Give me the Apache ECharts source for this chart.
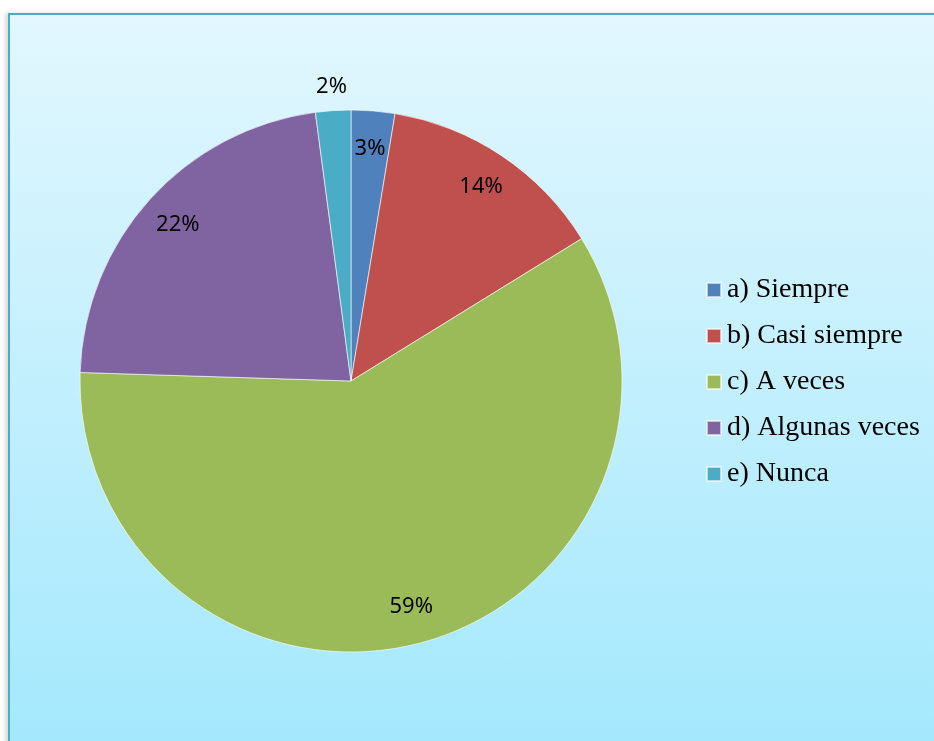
<!DOCTYPE html>
<html>
<head>
<meta charset="utf-8">
<script src="https://cdn.jsdelivr.net/npm/echarts@6/dist/echarts.min.js"></script>
<style>
  body { margin: 0; background: #ffffff; }
  #box {
    position: absolute; left: 8px; top: 13px; width: 940px; height: 740px;
    border-top: 2px solid #4bacc6; border-left: 2px solid #4bacc6;
    background: linear-gradient(to bottom, #e2f7fe 0%, #a3e8fd 100%);
    box-shadow: -3px 0 4px rgba(0,0,0,0.15);
  }
  #chart { position: absolute; left: 0; top: 0; width: 934px; height: 741px; }
</style>
</head>
<body>
<div id="box"></div>
<div id="chart"></div>
<script>
// categorías y porcentajes
const categorias = ['a) Siempre', 'b) Casi siempre', 'c) A veces', 'd) Algunas veces', 'e) Nunca'];
const valores = [2.6, 13.6, 59.3, 22.4, 2.1];
const colores = ['#4f81bd', '#c0504d', '#9bbb59', '#8064a2', '#4bacc6'];

const chart = echarts.init(document.getElementById('chart'));

const datos = categorias.map((c, i) => ({ name: c, value: valores[i], itemStyle: { color: colores[i] } }));
const pct = p => Math.round(p.percent) + '%';
const labelFont = { fontFamily: 'Noto Sans', fontSize: 22, color: '#000' };

const option = {
  animation: false,
  legend: {
    orient: 'vertical',
    left: 701,
    top: 271,
    icon: 'rect',
    itemWidth: 14,
    itemHeight: 14,
    itemGap: 18,
    data: categorias,
    textStyle: { fontFamily: 'Liberation Serif', fontSize: 28, color: '#000', padding: [0, 0, 0, 1] }
  },
  series: [
    {
      // porción principal
      type: 'pie',
      center: [351, 381],
      radius: 271,
      startAngle: 90,
      label: { show: false },
      labelLine: { show: false },
      itemStyle: { borderColor: 'rgba(255,255,255,0.6)', borderWidth: 1 },
      emphasis: { disabled: true },
      data: datos
    },
    {
      // etiquetas dentro del anillo exterior
      type: 'pie',
      center: [351, 381],
      radius: [190, 271],
      startAngle: 90,
      silent: true,
      itemStyle: { color: 'transparent' },
      label: Object.assign({ show: true, position: 'inside', formatter: p => p.dataIndex === 4 ? '' : pct(p) }, labelFont),
      labelLine: { show: false },
      data: datos.map(d => ({ name: d.name, value: d.value }))
    },
    {
      // etiqueta exterior (2%)
      type: 'pie',
      center: [351, 381],
      radius: [282, 302],
      startAngle: 90,
      silent: true,
      itemStyle: { color: 'transparent' },
      label: Object.assign({ show: true, position: 'inside', formatter: p => p.dataIndex === 4 ? pct(p) : '' }, labelFont),
      labelLine: { show: false },
      data: datos.map(d => ({ name: d.name, value: d.value }))
    }
  ]
};

chart.setOption(option);
</script>
</body>
</html>
